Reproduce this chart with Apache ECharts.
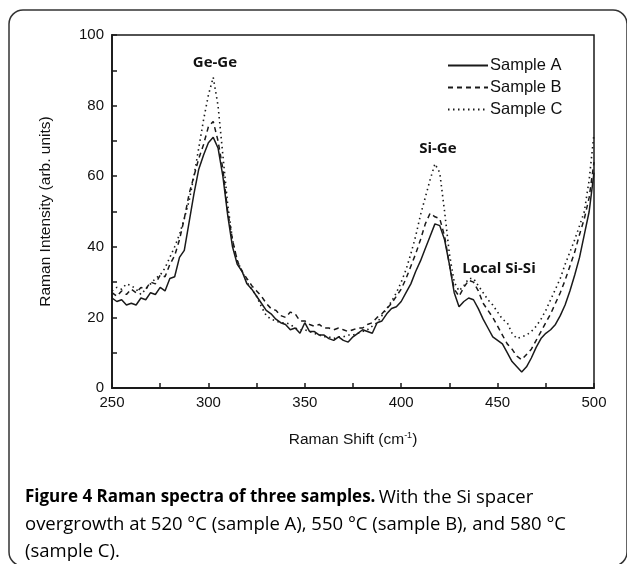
<!DOCTYPE html>
<html>
<head>
<meta charset="utf-8">
<script src="https://cdn.jsdelivr.net/npm/echarts@6/dist/echarts.min.js"></script>
<style>
html,body{margin:0;padding:0;background:#fff;}
#c{width:627px;height:564px;}
</style>
</head>
<body>
<div id="c"></div>
<script>
const shifts = [250,252.5,255,257.5,260,262.5,265,267.5,270,272.5,275,277.5,280,282.5,285,287.5,290,292.5,295,297.5,
300,302.5,305,307.5,310,312.5,315,317.5,320,322.5,325,327.5,330,332.5,335,337.5,340,342.5,345,347.5,
350,352.5,355,357.5,360,362.5,365,367.5,370,372.5,375,377.5,380,382.5,385,387.5,390,392.5,395,397.5,
400,402.5,405,407.5,410,412.5,415,417.5,420,422.5,425,427.5,430,432.5,435,437.5,440,442.5,445,447.5,
450,452.5,455,457.5,460,462.5,465,467.5,470,472.5,475,477.5,480,482.5,485,487.5,490,492.5,495,497.5,500];

const sampleA = [25.5,24.5,25,23.5,24,23.5,25.5,25,27,26.5,28.5,27.5,31,31.5,37,39,47,55,62,66,
69.5,71,68,60,49,40,35,33,29.5,28,26,24,22,21,19.5,18.5,18,16.5,17,15.5,
18.5,16,16,15,15,14,13.5,14.5,13.5,13,14.5,15.5,16.5,16,15.5,18.5,19,21,22.5,23,
24.5,27,29.5,33,36,39.5,43,46.5,46,42,35,27,23,24.5,25.5,25,22.5,19.5,17,14.5,
13.5,12.5,10,7.5,6,4.5,6,8.5,11.5,14,15.5,16.5,18,20.5,23.5,27.5,32,37,43.5,50,61];

const sampleB = [27,26,27.5,26.5,28,27,28.5,28,30,29.5,32,31.5,35,37.5,42,48,55,60,65,69,
74,75.5,70,62,50,42,36,33,31,29,27.5,26,24,22.5,22,20.5,20,21.5,21,19,
19,18,17.5,18,17,17,16.5,17,16.5,16,16.5,17,17,18,18.5,20,21,22.5,24,26,
28,31,34.5,38,42,46.5,49.5,48.5,48,43,35,28,26,28.5,30.5,30,27.5,24,22,20,
17.5,15,12.5,11,9,8,9.5,11,13.5,16,18.5,21,24,27,30.5,34.5,38.5,43.5,48,54,64];

const sampleC = [27.5,28.5,28,29.5,29,28,26.5,28,29.5,31,32,34,37,40,43.5,48,53,60,68,76,
83,88,80,66,52,42,36,33,30,28,26,23,20.5,19.5,19,18.5,18.5,18,17,16.5,
16.5,16,15.5,15,14.5,14.5,14,14.5,14.5,15,15,15.5,16,16.5,17.5,18.5,20.5,22.5,24.5,27,
30,33.5,38,43,49,54,59,63.5,61,50,38,30,27.5,29,31,31,29,27,25,23.5,
21.5,19.5,18.5,15.5,14,14.5,15,16,17.5,19.5,22,25,28,31,35,38.5,42,46,50,59,72];

const seriesNames = ['Sample A','Sample B','Sample C'];
const peakLabels = ['Ge-Ge','Si-Ge','Local Si-Si'];
const peakPos = [[303.4,92.2],[419,67.8],[450.7,33.8]];

const xTicks = [250,300,350,400,450,500];
const yTicks = [0,20,40,60,80,100];

const captionBold = 'Figure 4 Raman spectra of three samples.';
const captionLine1 = 'With the Si spacer';
const captionLine2 = 'overgrowth at 520 \u00B0C (sample A), 550 \u00B0C (sample B), and 580 \u00B0C';
const captionLine3 = '(sample C).';

const chart = echarts.init(document.getElementById('c'), null, {renderer:'canvas'});
const ink = '#1a1a1a';
function pairs(arr){ return shifts.map((x,i)=>[x,arr[i]]); }

const styles = [
  {type:'solid', width:1.5},
  {type:[5,4], width:1.5},
  {type:[1.5,3.5], width:1.6}
];

const series = [sampleA, sampleB, sampleC].map((arr,k)=>({
  name: seriesNames[k],
  type:'line',
  data: pairs(arr),
  symbol:'none',
  smooth:false,
  animation:false,
  lineStyle:{color:ink, width:styles[k].width, type:styles[k].type},
  itemStyle:{color:ink}
}));

series[0].markPoint = {
  symbol:'circle', symbolSize:0, animation:false,
  label:{show:true, position:'inside', color:'#111', fontFamily:'Open Sans', fontWeight:'bold', fontSize:15,
    formatter:p=>p.name},
  data: peakLabels.map((n,i)=>({name:n, coord:peakPos[i]}))
};

chart.setOption({
  animation:false,
  backgroundColor:'#fff',
  grid:{left:112, right:33, top:35, bottom:176, show:true, borderColor:ink, borderWidth:1.5, backgroundColor:'transparent'},
  legend:{
    orient:'vertical', left:442, top:52,
    itemWidth:40, itemHeight:14, itemGap:5,
    data: seriesNames,
    itemStyle:{opacity:0},
    textStyle:{fontFamily:'Liberation Sans', fontSize:16.5, color:'#111', padding:[0,0,0,-3]}
  },
  xAxis:{
    type:'value', min:250, max:500, interval:50,
    axisLine:{show:true, lineStyle:{color:ink, width:1.8}},
    axisTick:{show:true, inside:true, length:5, lineStyle:{color:ink, width:1.5}},
    minorTick:{show:true, splitNumber:2, length:5, lineStyle:{color:ink, width:1.5}},
    splitLine:{show:false},
    axisLabel:{show:true, margin:7, fontFamily:'Liberation Sans', fontSize:15, color:'#111',
      customValues: xTicks},
    name:'{n|Raman Shift (cm}{s|-1}{n|)}',
    nameLocation:'middle', nameGap:43,
    nameTextStyle:{rich:{n:{fontFamily:'Liberation Sans', fontSize:15.5, color:'#111'},
                         s:{fontFamily:'Liberation Sans', fontSize:9, color:'#111', padding:[0,0,8,0]}}}
  },
  yAxis:{
    type:'value', min:0, max:100, interval:20,
    axisLine:{show:true, lineStyle:{color:ink, width:1.8}},
    axisTick:{show:true, inside:true, length:5, lineStyle:{color:ink, width:1.5}},
    minorTick:{show:true, splitNumber:2, length:5, lineStyle:{color:ink, width:1.5}},
    splitLine:{show:false},
    axisLabel:{show:true, margin:8, fontFamily:'Liberation Sans', fontSize:15, color:'#111',
      customValues: yTicks},
    name:'Raman Intensity (arb. units)',
    nameLocation:'middle', nameGap:58, nameRotate:90,
    nameTextStyle:{fontFamily:'Liberation Sans', fontSize:15.5, color:'#111'}
  },
  series: series,
  graphic:[
    {type:'rect', silent:true, z:-1,
      shape:{x:9, y:10, width:618, height:556, r:14},
      style:{fill:'none', stroke:'#333', lineWidth:1.5}},
    {type:'text', left:25, top:488, silent:true,
      style:{
        text: '{b|' + captionBold + '} {r|' + captionLine1 + '}\n{r|' + captionLine2 + '}\n{r|' + captionLine3 + '}',
        rich:{
          b:{fontFamily:'Open Sans', fontWeight:'bold', fontSize:17, color:'#231f20', lineHeight:27},
          r:{fontFamily:'Open Sans', fontSize:18.5, color:'#3a3a3a', lineHeight:27}
        }
      }}
  ]
});
</script>
</body>
</html>
